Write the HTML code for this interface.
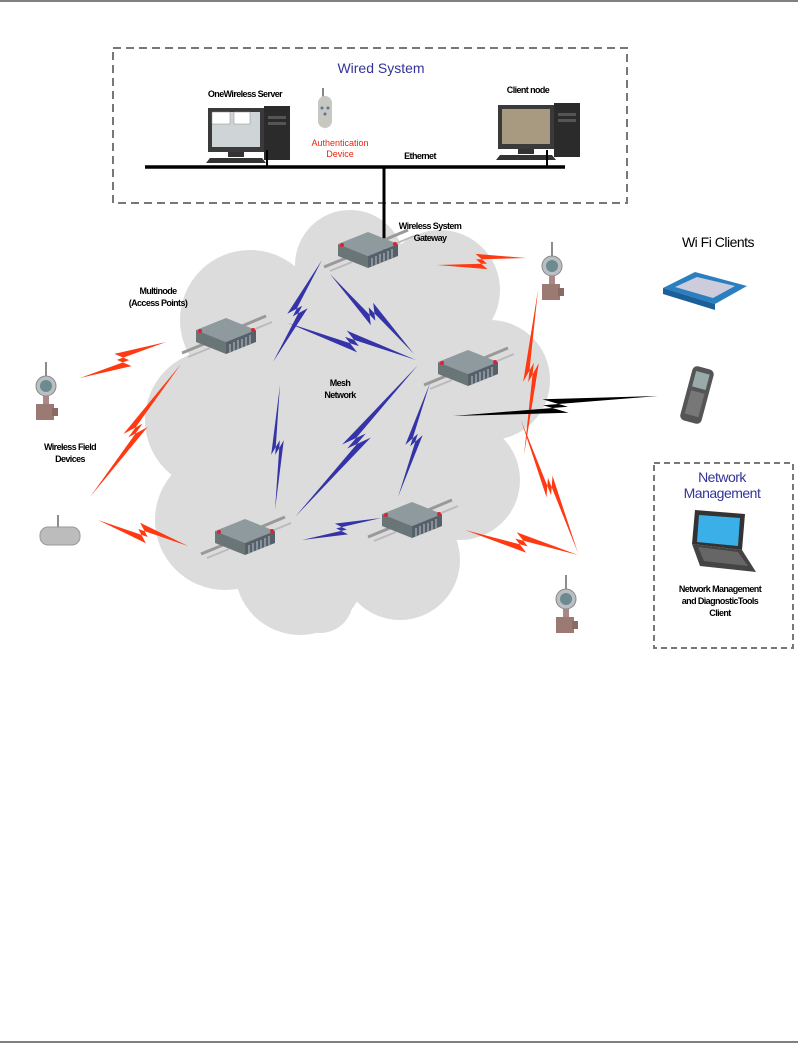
<!DOCTYPE html>
<html><head><meta charset="utf-8"><style>
html,body{margin:0;padding:0;background:#fff;}
svg{display:block;}
text{font-family:"Liberation Sans",Arial,sans-serif;}
.b{font-weight:bold;font-size:9px;fill:#000;letter-spacing:-0.6px;}
</style></head><body>
<svg width="798" height="1048" viewBox="0 0 798 1048" xmlns="http://www.w3.org/2000/svg">
<defs>
<g id="node">
 <line x1="-22" y1="8" x2="-44" y2="17" stroke="#999" stroke-width="3"/>
 <line x1="-16" y1="12" x2="-38" y2="21" stroke="#bbb" stroke-width="2"/>
 <line x1="16" y1="-10" x2="40" y2="-20" stroke="#999" stroke-width="3"/>
 <line x1="22" y1="-4" x2="46" y2="-14" stroke="#bbb" stroke-width="2"/>
 <polygon points="-30,-6 0,-18 30,-6 0,6" fill="#8e9a9e"/>
 <polygon points="-30,-6 0,6 0,18 -30,6" fill="#6a7578"/>
 <polygon points="0,6 30,-6 30,6 0,18" fill="#56606a"/>
 <path d="M4,8v9M8,6v9M12,4v9M16,3v9M20,1v9M24,-1v9" stroke="#aab4b8" stroke-width="1.2"/>
 <circle cx="-26" cy="-5" r="2" fill="#d23"/><circle cx="27" cy="-6" r="2" fill="#d23"/>
</g>
<g id="fdev">
 <line x1="0" y1="-30" x2="0" y2="-14" stroke="#666" stroke-width="1.5"/>
 <circle cx="0" cy="-6" r="10" fill="#b9bfc2" stroke="#888"/>
 <circle cx="0" cy="-6" r="6" fill="#6c8a90"/>
 <rect x="-3" y="4" width="6" height="8" fill="#a88"/>
 <rect x="-10" y="12" width="18" height="16" fill="#9a7a72"/>
 <rect x="6" y="16" width="6" height="8" fill="#8a6a62"/>
</g>
<g id="pc">
 <rect x="0" y="0" width="56" height="44" fill="#3a3a3a"/>
 <rect x="4" y="4" width="48" height="35" fill="#cfd4d6"/>
 <rect x="56" y="-2" width="26" height="54" fill="#2b2b2b"/>
 <rect x="60" y="8" width="18" height="3" fill="#555"/><rect x="60" y="14" width="18" height="3" fill="#555"/>
 <rect x="20" y="44" width="16" height="5" fill="#333"/>
 <polygon points="2,50 54,50 58,55 -2,55" fill="#333"/>
</g>
</defs>

<line x1="0" y1="1" x2="798" y2="1" stroke="#000" stroke-width="1"/>
<line x1="0" y1="1042" x2="798" y2="1042" stroke="#000" stroke-width="1"/>

<rect x="113" y="48" width="514" height="155" fill="none" stroke="#777" stroke-width="2" stroke-dasharray="8,5"/>
<text x="381" y="73" font-size="14" fill="#333399" text-anchor="middle">Wired System</text>
<text x="245" y="97" class="b" text-anchor="middle">OneWireless Server</text>
<use href="#pc" x="208" y="108"/>
<rect x="212" y="112" width="18" height="12" fill="#fff" stroke="#888" stroke-width=".5"/>
<rect x="234" y="112" width="16" height="12" fill="#fff" stroke="#888" stroke-width=".5"/>
<g transform="translate(325,88)">
 <line x1="-2" y1="0" x2="-2" y2="10" stroke="#888" stroke-width="2"/>
 <rect x="-7" y="8" width="14" height="32" rx="7" fill="#c8c8c0"/>
 <circle cx="-3" cy="20" r="1.5" fill="#579"/><circle cx="3" cy="20" r="1.5" fill="#579"/><circle cx="0" cy="26" r="1.5" fill="#579"/>
</g>
<text x="340" y="146" font-size="9" fill="#e21" text-anchor="middle">Authentication</text>
<text x="340" y="157" font-size="9" fill="#e21" text-anchor="middle">Device</text>
<text x="420" y="159" class="b" text-anchor="middle">Ethernet</text>
<text x="528" y="93" class="b" text-anchor="middle">Client node</text>
<use href="#pc" x="498" y="105"/>
<rect x="502" y="109" width="48" height="35" fill="#a89a80"/>
<line x1="145" y1="167" x2="565" y2="167" stroke="#000" stroke-width="3.5"/>
<line x1="267" y1="150" x2="267" y2="167" stroke="#000" stroke-width="2"/>
<line x1="547" y1="150" x2="547" y2="167" stroke="#000" stroke-width="2"/>

<g fill="#dcdcdc">
 <circle cx="350" cy="265" r="55"/>
 <circle cx="440" cy="290" r="60"/>
 <circle cx="250" cy="320" r="70"/>
 <circle cx="490" cy="380" r="60"/>
 <circle cx="215" cy="420" r="70"/>
 <circle cx="225" cy="520" r="70"/>
 <circle cx="300" cy="570" r="65"/>
 <circle cx="400" cy="560" r="60"/>
 <circle cx="460" cy="480" r="60"/>
 <circle cx="340" cy="420" r="130"/>
 <circle cx="320" cy="600" r="33"/>
</g>
<line x1="384" y1="167" x2="384" y2="250" stroke="#000" stroke-width="3"/>

<g id="bolts"></g>

<use href="#node" x="368" y="250"/>
<use href="#node" x="226" y="336"/>
<use href="#node" x="468" y="368"/>
<use href="#node" x="245" y="537"/>
<use href="#node" x="412" y="520"/>

<text x="430" y="229" class="b" text-anchor="middle">Wireless System</text>
<text x="430" y="241" class="b" text-anchor="middle">Gateway</text>
<text x="158" y="294" class="b" text-anchor="middle">Multinode</text>
<text x="158" y="306" class="b" text-anchor="middle">(Access Points)</text>
<text x="340" y="386" class="b" text-anchor="middle">Mesh</text>
<text x="340" y="398" class="b" text-anchor="middle">Network</text>
<text x="70" y="450" class="b" text-anchor="middle">Wireless Field</text>
<text x="70" y="462" class="b" text-anchor="middle">Devices</text>

<use href="#fdev" x="46" y="392"/>
<use href="#fdev" x="552" y="272"/>
<use href="#fdev" x="566" y="605"/>
<g transform="translate(58,535)">
 <line x1="0" y1="-20" x2="0" y2="-6" stroke="#666" stroke-width="1.5"/>
 <rect x="-18" y="-8" width="40" height="18" rx="8" fill="#bcbcbc" stroke="#999"/>
</g>

<text x="718" y="247" font-size="14" fill="#000" text-anchor="middle" letter-spacing="-0.5">Wi Fi Clients</text>
<g transform="translate(705,290)">
 <polygon points="-42,-2 -10,-18 42,-4 10,14" fill="#2a7fc0"/>
 <polygon points="-42,-2 10,14 10,20 -42,4" fill="#1b5f98"/>
 <polygon points="-30,-3 -8,-13 30,-4 8,8" fill="#ccd"/>
</g>
<g transform="translate(697,395) rotate(15)">
 <rect x="-11" y="-28" width="22" height="56" rx="5" fill="#555"/>
 <rect x="-7" y="-23" width="14" height="16" fill="#9aa"/>
 <rect x="-7" y="-3" width="14" height="24" fill="#777"/>
</g>

<rect x="654" y="463" width="139" height="185" fill="none" stroke="#777" stroke-width="2" stroke-dasharray="6,4"/>
<text x="722" y="482" font-size="14" fill="#333399" text-anchor="middle" letter-spacing="-0.5">Network</text>
<text x="722" y="498" font-size="14" fill="#333399" text-anchor="middle" letter-spacing="-0.5">Management</text>
<g transform="translate(720,548)">
 <polygon points="-25,-38 25,-34 22,2 -28,-4" fill="#333"/>
 <polygon points="-21,-33 20,-30 18,-2 -23,-6" fill="#3bb0e8"/>
 <polygon points="-28,-4 22,2 36,24 -20,18" fill="#444"/>
 <polygon points="-22,-1 18,4 28,18 -16,13" fill="#666"/>
</g>
<text x="720" y="592" class="b" text-anchor="middle">Network Management</text>
<text x="720" y="604" class="b" text-anchor="middle">and DiagnosticTools</text>
<text x="720" y="616" class="b" text-anchor="middle">Client</text>

<script>
(function(){
 var g=document.getElementById('bolts'),ns='http://www.w3.org/2000/svg';
 function bolt(ax,ay,bx,by,col,w,d){
  var dx=bx-ax,dy=by-ay,L=Math.sqrt(dx*dx+dy*dy),nx=-dy/L,ny=dx/L;
  function P(t,o){return [ax+dx*t+nx*o,ay+dy*t+ny*o];}
  var pts=[[ax,ay],P(0.56,w*0.5),P(0.44,-d),[bx,by],P(0.44,-w*0.5),P(0.56,d)];
  var s='';pts.forEach(function(p){s+=p[0].toFixed(1)+','+p[1].toFixed(1)+' ';});
  var e=document.createElementNS(ns,'polygon');e.setAttribute('points',s);e.setAttribute('fill',col);g.appendChild(e);
 }
 var R='#ff3a12',B='#3434a8',K='#000';
 bolt(80,378,166,342,R,5,9);
 bolt(90,497,181,364,R,4,8);
 bolt(98,520,188,546,R,5,9);
 bolt(437,265,526,258,R,5,8);
 bolt(538,290,524,455,R,4,7);
 bolt(521,420,578,553,R,4,7);
 bolt(465,530,578,555,R,5,9);
 bolt(453,416,658,396,K,4,8);
 bolt(322,260,273,362,B,4,8);
 bolt(330,274,414,354,B,5,9);
 bolt(288,323,416,360,B,5,9);
 bolt(280,385,275,510,B,4,6);
 bolt(295,517,418,365,B,5,9);
 bolt(398,497,430,383,B,4,7);
 bolt(302,540,381,518,B,4,7);
})();
</script>
</svg>
</body></html>
